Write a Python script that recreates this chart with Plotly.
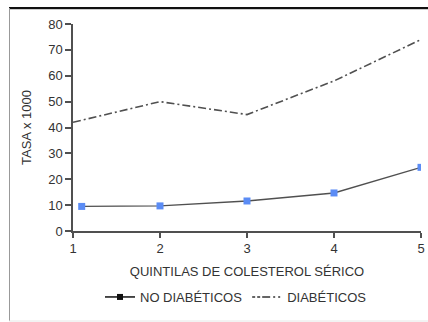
import plotly.graph_objects as go

# Quintiles of serum cholesterol
quintiles = [1, 2, 3, 4, 5]
# Rate per 1000
no_diabeticos = [9.5, 9.7, 11.6, 14.7, 24.6]
diabeticos = [42, 50, 45, 58, 74]
# first non-diabetic point sits slightly to the right of quintile 1
no_diab_x = [1.1, 2, 3, 4, 5]

y_ticks = [0, 10, 20, 30, 40, 50, 60, 70, 80]

FONT = "Liberation Sans, Arial, Helvetica, sans-serif"
LINE = "#505050"
BLUE = "#5b8cf5"
FS = 13

fig = go.Figure()

# Data traces
fig.add_trace(go.Scatter(
    x=no_diab_x, y=no_diabeticos, mode="lines+markers",
    line=dict(color=LINE, width=1.4),
    marker=dict(symbol="square", size=7, color=BLUE),
    showlegend=False,
))
fig.add_trace(go.Scatter(
    x=quintiles, y=diabeticos, mode="lines",
    line=dict(color=LINE, width=1.6, dash="8px,3px,2px,3px"),
    showlegend=False,
))

# Legend entries (black key symbols)
fig.add_trace(go.Scatter(
    x=[None], y=[None], mode="lines+markers", name="NO DIABÉTICOS",
    line=dict(color="#111", width=1.5),
    marker=dict(symbol="square", size=6, color="#111"),
))
fig.add_trace(go.Scatter(
    x=[None], y=[None], mode="lines", name="DIABÉTICOS",
    line=dict(color="#333", width=1.5, dash="3px,2px,3px,2px,8px"),
))

W, H = 428, 322
L, R, T, B = 73, 7, 24, 91
pw, ph = W - L - R, H - T - B


def px_x(x):
    return (x - L) / pw


def px_y(y):
    return (H - B - y) / ph


shapes = [
    # outer frame: dark top rule, grey left and bottom rules
    dict(type="line", xref="paper", yref="paper", x0=px_x(9), x1=px_x(430),
         y0=px_y(8), y1=px_y(8), line=dict(color="#111", width=2)),
    dict(type="line", xref="paper", yref="paper", x0=px_x(9), x1=px_x(430),
         y0=px_y(9.5), y1=px_y(9.5), line=dict(color="#ccc", width=1)),
    dict(type="line", xref="paper", yref="paper", x0=px_x(9.5), x1=px_x(9.5),
         y0=px_y(8), y1=px_y(321), line=dict(color="#999", width=1)),
    dict(type="line", xref="paper", yref="paper", x0=px_x(9), x1=px_x(430),
         y0=px_y(321), y1=px_y(321), line=dict(color="#e6e6e6", width=1)),
]

fig.update_layout(
    width=W, height=H,
    margin=dict(l=L, r=R, t=T, b=B, autoexpand=False),
    paper_bgcolor="white", plot_bgcolor="white",
    font=dict(family=FONT, size=FS, color="#333"),
    shapes=shapes,
    showlegend=True,
    legend=dict(
        orientation="h", x=px_x(100), xanchor="left",
        y=px_y(297), yanchor="middle",
        itemwidth=30, font=dict(size=FS, color="#333"),
        bgcolor="rgba(0,0,0,0)", tracegroupgap=0,
    ),
    xaxis=dict(
        range=[1, 5], tickvals=quintiles, ticktext=[str(q) for q in quintiles],
        showgrid=False, zeroline=False, showline=True, linecolor=LINE,
        linewidth=1.5, ticks="outside", ticklen=5, tickwidth=1.5,
        tickcolor=LINE, tickfont=dict(size=FS, color="#333"),
        title=dict(text="QUINTILAS DE COLESTEROL SÉRICO",
                   font=dict(size=FS, color="#333"), standoff=12),
        automargin=False,
    ),
    yaxis=dict(
        range=[0, 80], tickvals=y_ticks,
        showgrid=False, zeroline=False, showline=True, linecolor=LINE,
        linewidth=1.5, ticks="outside", ticklen=6, tickwidth=1.5,
        tickcolor=LINE, tickfont=dict(size=FS, color="#333"),
        title=dict(text="TASA x 1000",
                   font=dict(size=FS, color="#333"), standoff=14),
        automargin=False,
    ),
)

fig.write_html("out.html")
